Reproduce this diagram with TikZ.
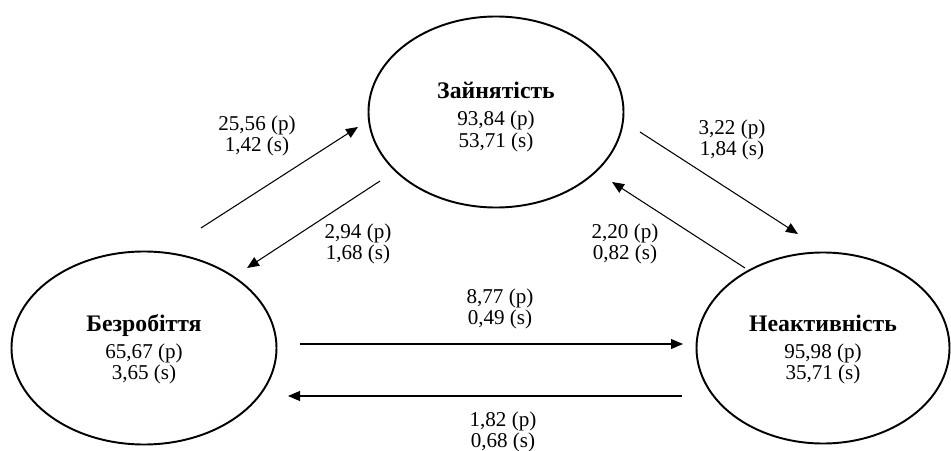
\documentclass[tikz,border=0pt]{standalone}
\usepackage{fontspec}
\setmainfont{Liberation Serif}
\usetikzlibrary{shapes.geometric, arrows.meta}

\begin{document}
\begin{tikzpicture}[every node/.style={font=\fontsize{12}{12}\selectfont, align=center},
		estado/.style={ellipse, draw, line width=1.1pt, inner sep=0pt},
		flujo/.style={line width=.6pt, -{Triangle[length=2.4mm,width=2mm]}}]
			\useasboundingbox (0,0) rectangle (19.02,9);
			
			%estados
			\node[estado, minimum width=5.1cm, minimum height=3.82cm] (zain) at (9.92,6.76) {\rule{0pt}{15pt}\textbf{\fontsize{13.5}{14}\selectfont Зайнятість}\\[3.4pt] 93,84 (p)\\ 53,71 (s)};
			\node[estado, minimum width=5.3cm, minimum height=3.86cm] (bezr) at (2.88,2.04) {\rule{0pt}{11pt}\textbf{\fontsize{13.5}{14}\selectfont Безробіття}\\[3.4pt] 65,67 (p)\\ 3,65 (s)};
			\node[estado, minimum width=5.06cm, minimum height=3.82cm] (neak) at (16.46,2.04) {\rule{0pt}{11pt}\textbf{\fontsize{13.5}{14}\selectfont Неактивність}\\[3.4pt] 95,98 (p)\\ 35,71 (s)};
			
			%extremos de las flechas
			\coordinate (b1) at (4.02,4.44); \coordinate (z1) at (7.16,6.46);
			\coordinate (z2) at (7.6,5.38); \coordinate (b2) at (4.94,3.64);
			\coordinate (z3) at (12.8,6.36); \coordinate (n3) at (15.96,4.32);
			\coordinate (n4) at (14.9,3.64); \coordinate (z4) at (12.24,5.36);
			\coordinate (b5) at (6,2.12); \coordinate (n5) at (13.66,2.12);
			\coordinate (n6) at (13.64,1.08); \coordinate (b6) at (5.76,1.08);
			
			%flujos
			\draw[flujo] (b1) -- (z1);
			\draw[flujo] (z2) -- (b2);
			\draw[flujo] (z3) -- (n3);
			\draw[flujo] (n4) -- (z4);
			\draw[flujo] (b5) -- (n5);
			\draw[flujo] (n6) -- (b6);
			
			%etiquetas
			\node (bz) at (5.14,6.28) {25,56 (p)\\ 1,42 (s)};
			\node (zb) at (7.16,4.12) {2,94 (p)\\ 1,68 (s)};
			\node (zn) at (14.64,6.2) {3,22 (p)\\ 1,84 (s)};
			\node (nz) at (12.5,4.12) {2,20 (p)\\ 0,82 (s)};
			\node (bn) at (10,2.82) {8,77 (p)\\ 0,49 (s)};
			\node (nb) at (10.06,0.36) {1,82 (p)\\ 0,68 (s)};
\end{tikzpicture}
\end{document}
